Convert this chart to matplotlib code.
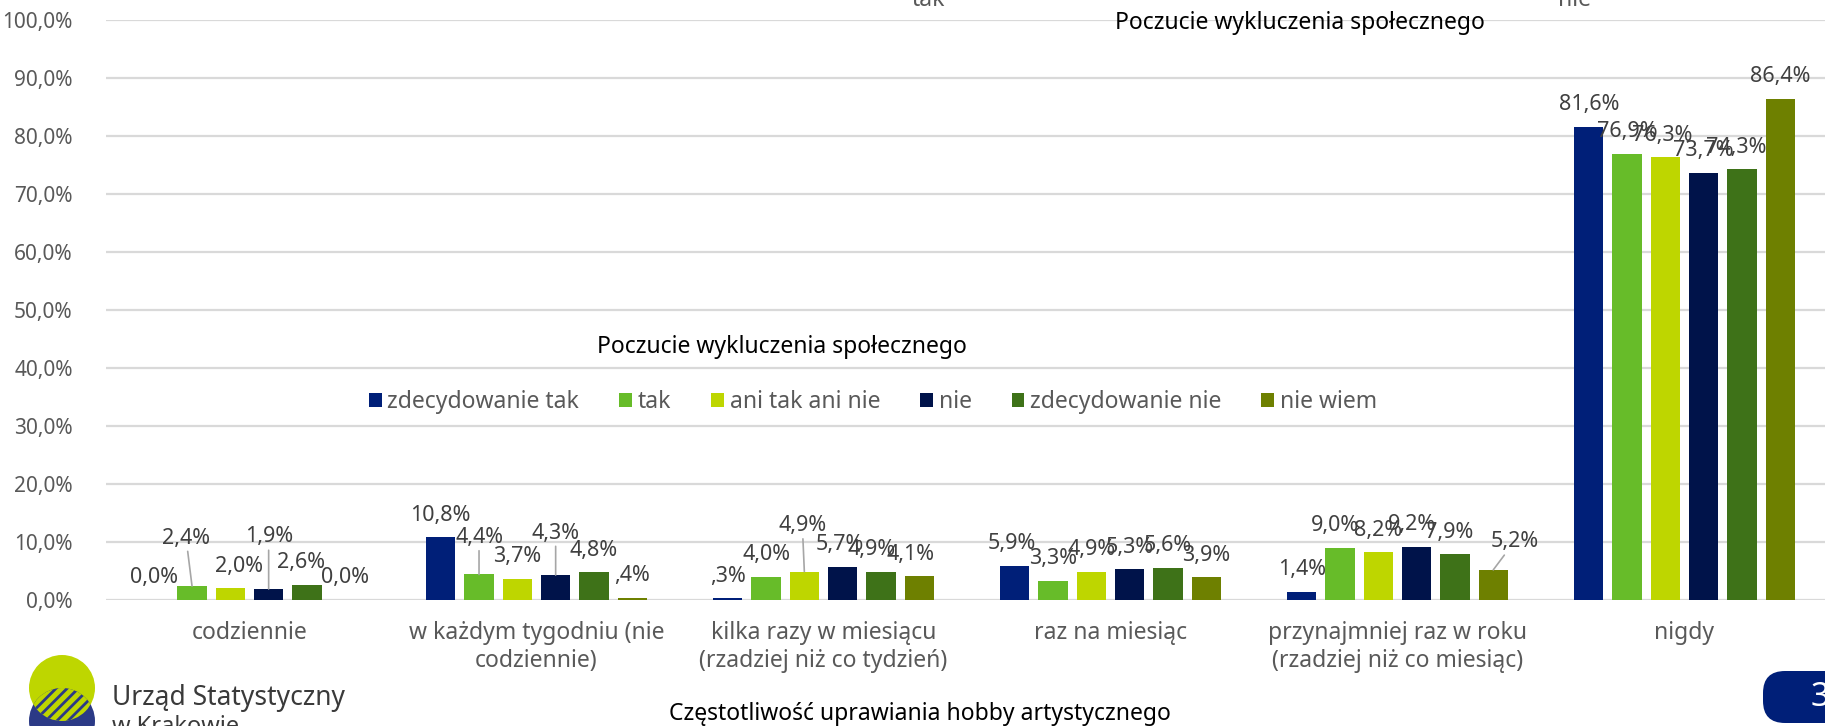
import matplotlib
matplotlib.use("Agg")
import matplotlib.pyplot as plt
import numpy as np
from matplotlib.patches import Circle, FancyBboxPatch
from matplotlib.transforms import IdentityTransform

# ---------------- data ----------------
categories = [
    "codziennie",
    "w każdym tygodniu (nie\ncodziennie)",
    "kilka razy w miesiącu\n(rzadziej niż co tydzień)",
    "raz na miesiąc",
    "przynajmniej raz w roku\n(rzadziej niż co miesiąc)",
    "nigdy",
]
series_names = ["zdecydowanie tak", "tak", "ani tak ani nie", "nie",
                "zdecydowanie nie", "nie wiem"]
zdecydowanie_tak = [0.0, 10.8, 0.3, 5.9, 1.4, 81.6]
tak = [2.4, 4.4, 4.0, 3.3, 9.0, 76.9]
ani_tak_ani_nie = [2.0, 3.7, 4.9, 4.9, 8.2, 76.3]
nie = [1.9, 4.3, 5.7, 5.3, 9.2, 73.7]
zdecydowanie_nie = [2.6, 4.8, 4.9, 5.6, 7.9, 74.3]
nie_wiem = [0.0, 0.4, 4.1, 3.9, 5.2, 86.4]
y_ticks = [0, 10, 20, 30, 40, 50, 60, 70, 80, 90, 100]

legend_title = "Poczucie wykluczenia społecznego"
x_title = "Częstotliwość uprawiania hobby artystycznego"

# ---------------- style ----------------
colors = ["#001F78", "#67BC29", "#BED600", "#00134A", "#3E7218", "#6E8000"]
FONT = ["Noto Sans", "DejaVu Sans"]
plt.rcParams["font.family"] = FONT
plt.rcParams["hatch.linewidth"] = 2.0
FS_NUM = 15.5
FS_TICK = 15
FS_TXT = 16.5
TICK_C = "#595959"
LBL_C = "#404040"
GRID_C = "#D9D9D9"

W, H = 1825, 726
fig = plt.figure(figsize=(W / 100, H / 100), dpi=100)
ax = fig.add_axes([106 / W, 126 / H, 1722 / W, 580 / H])

series = [zdecydowanie_tak, tak, ani_tak_ani_nie, nie, zdecydowanie_nie, nie_wiem]
x = np.arange(len(categories))
step = 0.1335
bw = 0.103

# label offsets in pixels (dx, dy, leader)
DY = 22
default_off = (0, DY, False)
offsets = {
    (1, 0): (-6, 48, True), (3, 0): (0, 52, True),
    (2, 0): (9, DY, False), (4, 0): (-6, DY, False),
    (1, 1): (0, 37, True), (3, 1): (0, 42, True),
    (2, 2): (-2, 46, True), (3, 2): (-3, DY, False),
    (4, 2): (-9, DY, False), (5, 2): (-9, DY, False),
    (0, 3): (-3, DY, False),
    (1, 4): (-5, DY, False), (3, 4): (-5, DY, False),
    (4, 4): (-6, DY, False), (5, 4): (21, 28, True),
    (2, 5): (-3, DY, False), (4, 5): (-6, DY, False),
}


def fmt(v):
    if 0 < v < 1:
        return "," + f"{v:.1f}".split(".")[1] + "%"
    return f"{v:.1f}".replace(".", ",") + "%"


for i, (vals, name, col) in enumerate(zip(series, series_names, colors)):
    xs = x + (i - 2.5) * step
    ax.bar(xs, vals, width=bw, color=col, label=name, zorder=3)
    for j, (xx, v) in enumerate(zip(xs, vals)):
        dx, dy, leader = offsets.get((i, j), default_off)
        kw = {}
        if leader:
            kw["arrowprops"] = dict(arrowstyle="-", color="#A6A6A6", lw=1.2,
                                    shrinkA=0, shrinkB=0)
        ax.annotate(fmt(v), (xx, v), xytext=(dx, dy), textcoords="offset pixels",
                    ha="center", va="center", fontsize=FS_NUM, color=LBL_C,
                    zorder=5, **kw)

ax.set_xlim(-0.5, len(categories) - 0.5)
ax.set_ylim(0, 100)
ax.set_yticks(y_ticks)
ax.set_yticklabels([f"{t:.1f}".replace(".", ",") + "%" for t in y_ticks])
ax.set_xticks(x)
ax.set_xticklabels(categories, linespacing=1.25)
ax.tick_params(axis="y", length=0, pad=24, labelsize=FS_TICK, labelcolor=TICK_C)
ax.tick_params(axis="x", length=0, pad=15, labelsize=FS_TXT, labelcolor=TICK_C)
for s in ax.spines.values():
    s.set_visible(False)
ax.yaxis.grid(True, color=GRID_C, lw=1.6, zorder=0)
ax.set_axisbelow(True)

# legend
handles, labels = ax.get_legend_handles_labels()
leg = fig.legend(handles, labels, loc="center left",
                 bbox_to_anchor=(369 / W, 1 - 402 / H), bbox_transform=fig.transFigure,
                 ncol=6, frameon=False, fontsize=FS_TXT, handlelength=0.55,
                 handleheight=0.55, handletextpad=0.25, columnspacing=1.75,
                 borderpad=0, borderaxespad=0)
for t in leg.get_texts():
    t.set_color(TICK_C)
fig.text(782 / W, 1 - 347 / H, legend_title, ha="center", va="center",
         fontsize=FS_TXT, color="black")

# top cut-off elements
fig.text(1300 / W, 1 - 23 / H, legend_title, ha="center", va="center",
         fontsize=FS_TXT, color="black")
fig.text(928 / W, 1 - 6 / H, "tak", ha="center", va="baseline", fontsize=FS_TXT, color=TICK_C)
fig.text(1575 / W, 1 - 6 / H, "nie", ha="center", va="baseline", fontsize=FS_TXT, color=TICK_C)

# axis title
fig.text(920 / W, 1 - 714 / H, x_title, ha="center", va="center", fontsize=FS_TXT, color="black")

# logo
idt = IdentityTransform()
lime = Circle((62, H - 688), 33, transform=idt, facecolor="#BED600", edgecolor="none")
navy = Circle((62, H - 721), 33, transform=idt, facecolor="#2B3A86", edgecolor="none")
lens = Circle((62, H - 688), 33, transform=idt, facecolor="#BED600",
              edgecolor="#2B3A86", lw=0, hatch="///")
fig.add_artist(lime)
fig.add_artist(navy)
fig.add_artist(lens)
lens.set_clip_path(navy)
fig.text(112, H - 705, "Urząd Statystyczny", transform=idt, ha="left", va="baseline",
         fontsize=19, color="#3A3A3A")
fig.text(112, H - 733, "w Krakowie", transform=idt, ha="left", va="baseline",
         fontsize=17, color="#3A3A3A")

# page number
pg = FancyBboxPatch((1763, 3), 90, 52, boxstyle="round,pad=0,rounding_size=22",
                    transform=idt, facecolor="#001F78", edgecolor="none")
fig.add_artist(pg)
fig.text(1811, H - 698, "3", transform=idt, ha="left", va="center", fontsize=24,
         fontweight="bold", color="white")

fig.savefig("out.png", dpi=100)
